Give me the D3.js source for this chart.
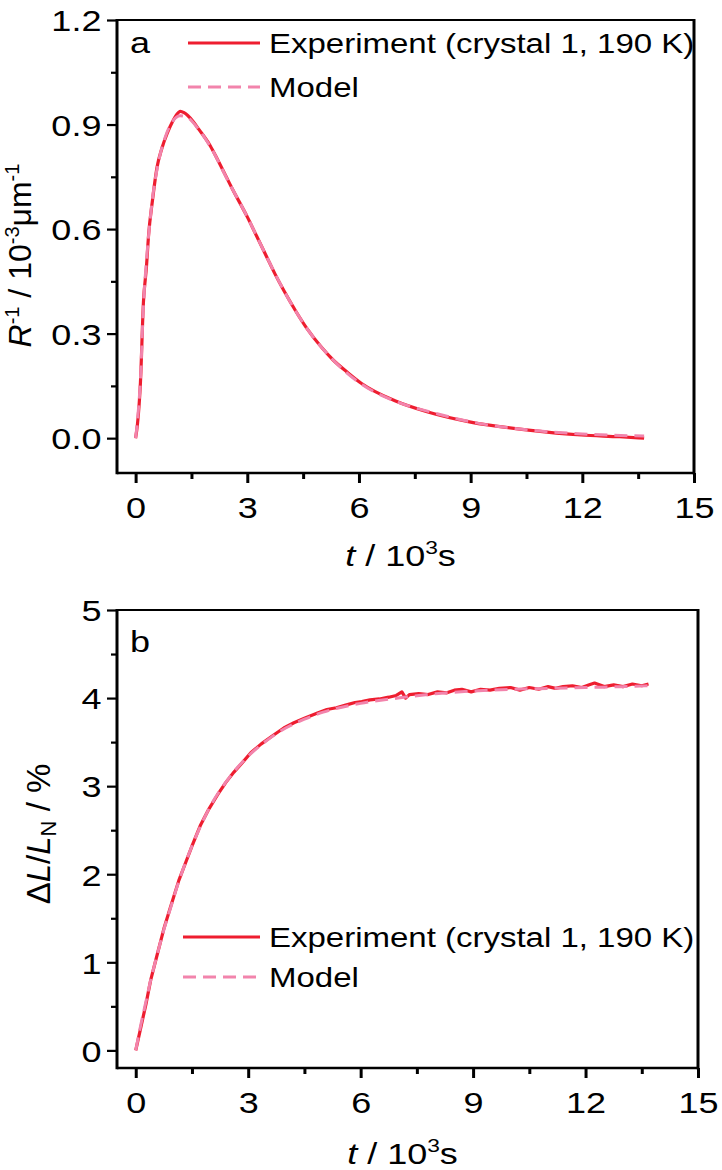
<!DOCTYPE html>
<html><head><meta charset="utf-8">
<script src="https://cdn.jsdelivr.net/npm/d3@7"></script>
<style>html,body{margin:0;padding:0;background:#fff;}svg{display:block;}</style>
</head><body>
<script>
// ---------- data ----------
const xTicks = [0, 3, 6, 9, 12, 15];
const xMinor = [1.5, 4.5, 7.5, 10.5, 13.5];
const aTicks = [0.0, 0.3, 0.6, 0.9, 1.2];
const aMinor = [0.15, 0.45, 0.75, 1.05];
const bTicks = [0, 1, 2, 3, 4, 5];
const bMinor = [0.5, 1.5, 2.5, 3.5, 4.5];

const legendLabels = ["Experiment (crystal 1, 190 K)", "Model"];

// panel a: R^-1 (10^-3 µm^-1) vs t (10^3 s)
const aExpT = [0,0.05,0.13,0.21,0.29,0.35,0.45,0.58,0.7,0.85,1.0,1.1,1.2,1.3,1.4,1.55,1.7,2.0,2.2,2.6,3.0,3.25,3.5,3.75,4.0,4.3,4.6,5.0,5.3,5.7,6.07,6.95,7.85,9.0,10.55,11.97,13.0,13.66];
const aExpV = [0,0.04,0.16,0.39,0.49,0.585,0.68,0.78,0.83,0.875,0.91,0.928,0.938,0.934,0.926,0.908,0.886,0.84,0.80,0.715,0.635,0.58,0.525,0.47,0.42,0.365,0.315,0.26,0.225,0.188,0.157,0.108,0.075,0.046,0.023,0.009,0.004,0.0];
const aModT = [0,0.05,0.13,0.21,0.3,0.45,0.6,0.8,1.0,1.2,1.4,1.7,2.0,2.5,3.0,3.5,4.0,4.6,5.3,6.0,7.0,8.0,9.0,10.5,12.0,13.66];
const aModV = [0,0.05,0.17,0.38,0.52,0.685,0.785,0.865,0.91,0.925,0.92,0.885,0.838,0.735,0.635,0.525,0.42,0.315,0.225,0.16,0.105,0.073,0.047,0.024,0.012,0.006];

// panel b: ΔL/L_N (%) vs t (10^3 s)
const bExpT = [0,0.13,0.27,0.4,0.58,0.75,0.93,1.15,1.33,1.51,1.73,1.95,2.18,2.4,2.62,2.85,3.07,3.35,3.68,3.95,4.22,4.5,4.85,5.1,5.35,5.6,5.85,6.03,6.25,6.5,6.75,6.95,7.1,7.2,7.3,7.55,7.8,8.05,8.3,8.5,8.7,8.95,9.2,9.45,9.7,10.0,10.25,10.5,10.75,11.0,11.2,11.4,11.65,11.9,12.1,12.24,12.5,12.75,13.0,13.25,13.5,13.68];
const bExpV = [0,0.25,0.52,0.8,1.1,1.38,1.63,1.93,2.13,2.33,2.56,2.74,2.9,3.04,3.16,3.27,3.38,3.48,3.58,3.66,3.72,3.77,3.83,3.87,3.89,3.92,3.95,3.96,3.98,3.99,4.01,4.03,4.07,4.0,4.04,4.05,4.04,4.07,4.06,4.09,4.10,4.07,4.1,4.09,4.11,4.12,4.09,4.12,4.1,4.13,4.11,4.13,4.14,4.12,4.15,4.17,4.13,4.15,4.13,4.16,4.14,4.16];
const bModT = [0,0.13,0.27,0.4,0.58,0.75,0.93,1.15,1.5,2.0,2.5,3.0,3.5,4.0,4.5,5.0,6.0,7.0,8.0,9.0,10.0,11.0,12.0,13.0,13.68];
const bModV = [0,0.28,0.55,0.8,1.1,1.37,1.62,1.92,2.32,2.78,3.1,3.34,3.52,3.66,3.76,3.84,3.94,4.0,4.05,4.08,4.1,4.11,4.12,4.13,4.14];

// ---------- drawing ----------
const W = 722, H = 1170, SX = 1.2;
const FONT = "'Liberation Sans', Arial, Helvetica, sans-serif";
const RED = "#ee1d2f", PINK = "#f284ac";

const svg = d3.select("body").append("svg").attr("width", W).attr("height", H)
  .style("font-family", FONT);

function panel(cfg) {
  const x = d3.scaleLinear().domain([-0.5, 15]).range([cfg.left, cfg.right]);
  const y = d3.scaleLinear().domain(cfg.yDomain).range([cfg.bottom, cfg.top]);
  const g = svg.append("g");

  // lines
  const lineExp = d3.line().x((d, i) => x(cfg.expT[i])).y(d => y(d)).curve(cfg.expCurve);
  const lineMod = d3.line().x((d, i) => x(cfg.modT[i])).y(d => y(d)).curve(d3.curveMonotoneX);
  g.append("path").attr("d", lineExp(cfg.expV)).attr("fill", "none")
    .attr("stroke", RED).attr("stroke-width", 3.2).attr("stroke-linejoin", "round");
  g.append("path").attr("d", lineMod(cfg.modV)).attr("fill", "none")
    .attr("stroke", PINK).attr("stroke-width", 3).attr("stroke-dasharray", "13,7");

  // minor ticks
  g.append("g").attr("transform", `translate(0,${cfg.bottom})`)
    .call(d3.axisBottom(x).tickValues(xMinor).tickSize(6).tickFormat(""))
    .call(a => a.select(".domain").remove())
    .call(a => a.selectAll("line").attr("stroke", "#000").attr("stroke-width", 3));
  g.append("g").attr("transform", `translate(${cfg.left},0)`)
    .call(d3.axisLeft(y).tickValues(cfg.yMinor).tickSize(6).tickFormat(""))
    .call(a => a.select(".domain").remove())
    .call(a => a.selectAll("line").attr("stroke", "#000").attr("stroke-width", 2.2));

  // major ticks
  g.append("g").attr("transform", `translate(0,${cfg.bottom})`)
    .call(d3.axisBottom(x).tickValues(xTicks).tickSize(10).tickPadding(14).tickFormat(d3.format("d")))
    .call(a => a.select(".domain").remove())
    .call(a => a.selectAll("line").attr("stroke", "#000").attr("stroke-width", 3))
    .call(a => a.selectAll("text").attr("font-size", 30).attr("fill", "#000")
      .attr("font-family", FONT).attr("transform", `scale(${SX},1)`));
  g.append("g").attr("transform", `translate(${cfg.left},0)`)
    .call(d3.axisLeft(y).tickValues(cfg.yTicks).tickSize(10).tickPadding(3).tickFormat(d3.format(cfg.yFmt)))
    .call(a => a.select(".domain").remove())
    .call(a => a.selectAll("line").attr("stroke", "#000").attr("stroke-width", 2.2))
    .call(a => a.selectAll("text").attr("font-size", 30).attr("fill", "#000")
      .attr("font-family", FONT).attr("transform", `scale(${SX},1)`).attr("dy", "0.36em"));

  // frame
  const fr = g.append("g").attr("stroke", "#000");
  fr.append("line").attr("x1", cfg.left).attr("x2", cfg.right).attr("y1", cfg.top).attr("y2", cfg.top).attr("stroke-width", 2.2);
  fr.append("line").attr("x1", cfg.left).attr("x2", cfg.right).attr("y1", cfg.bottom).attr("y2", cfg.bottom).attr("stroke-width", 2.4);
  fr.append("line").attr("x1", cfg.left).attr("x2", cfg.left).attr("y1", cfg.top - 1).attr("y2", cfg.bottom + 1.2).attr("stroke-width", 3);
  fr.append("line").attr("x1", cfg.right).attr("x2", cfg.right).attr("y1", cfg.top - 1).attr("y2", cfg.bottom + 1.2).attr("stroke-width", 3);

  // panel letter
  g.append("text").attr("transform", `translate(${cfg.left + 13},${cfg.top + cfg.letterDy}) scale(${SX},1)`)
    .attr("font-size", 30).text(cfg.letter);

  // legend
  const lg = g.append("g");
  legendLabels.forEach((lab, i) => {
    const ly = cfg.legY + i * cfg.legGap;
    lg.append("line").attr("x1", cfg.legX).attr("x2", 260).attr("y1", ly).attr("y2", ly)
      .attr("stroke", i === 0 ? RED : PINK).attr("stroke-width", 3.2)
      .attr("stroke-dasharray", i === 0 ? null : "13,7");
    lg.append("text").attr("transform", `translate(269,${ly + 10}) scale(${SX},1)`)
      .attr("font-size", 27.5).text(lab);
  });

  // x title
  const xt = g.append("text").attr("transform", `translate(${(cfg.left + cfg.right) / 2 - 5},${cfg.xTitleY}) scale(${SX},1)`)
    .attr("font-size", 30).attr("text-anchor", "middle");
  xt.append("tspan").attr("font-style", "italic").text("t");
  xt.append("tspan").text(" / 10");
  xt.append("tspan").attr("font-size", 19).attr("dy", -12).text("3");
  xt.append("tspan").attr("dy", 12).text("s");

  // y title
  const yt = g.append("text")
    .attr("transform", `translate(${cfg.yTitleX},${(cfg.top + cfg.bottom) / 2 + cfg.yTitleShift}) rotate(-90)`)
    .attr("font-size", cfg.yTitleSize).attr("text-anchor", "middle");
  cfg.yTitle(yt);
  return g;
}

panel({
  left: 117, right: 694, top: 20, bottom: 473,
  yDomain: [-0.1, 1.2], yTicks: aTicks, yMinor: aMinor, yFmt: ".1f",
  expT: aExpT, expV: aExpV, modT: aModT, modV: aModV, expCurve: d3.curveMonotoneX,
  letter: "a", letterDy: 33,
  legX: 188, legY: 43, legGap: 44,
  xTitleY: 566, yTitleX: 31, yTitleShift: 9, yTitleSize: 32,
  yTitle: t => {
    t.append("tspan").attr("font-style", "italic").text("R");
    t.append("tspan").attr("font-size", 20).attr("dy", -12).text("-1");
    t.append("tspan").attr("dy", 12).text(" / 10");
    t.append("tspan").attr("font-size", 20).attr("dy", -12).text("-3");
    t.append("tspan").attr("dy", 12).text("μm");
    t.append("tspan").attr("font-size", 20).attr("dy", -12).text("-1");
  }
});

panel({
  left: 117, right: 698, top: 610, bottom: 1068,
  yDomain: [-0.2, 5], yTicks: bTicks, yMinor: bMinor, yFmt: "d",
  expT: bExpT, expV: bExpV, modT: bModT, modV: bModV, expCurve: d3.curveLinear,
  letter: "b", letterDy: 42,
  legX: 183, legY: 937, legGap: 40,
  xTitleY: 1164, yTitleX: 50, yTitleShift: -5, yTitleSize: 33,
  yTitle: t => {
    t.append("tspan").text("Δ");
    t.append("tspan").attr("font-style", "italic").text("L");
    t.append("tspan").text("/");
    t.append("tspan").attr("font-style", "italic").text("L");
    t.append("tspan").attr("font-size", 22).attr("dy", 6).text("N");
    t.append("tspan").attr("dy", -6).text(" / %");
  }
});
</script>
</body></html>
